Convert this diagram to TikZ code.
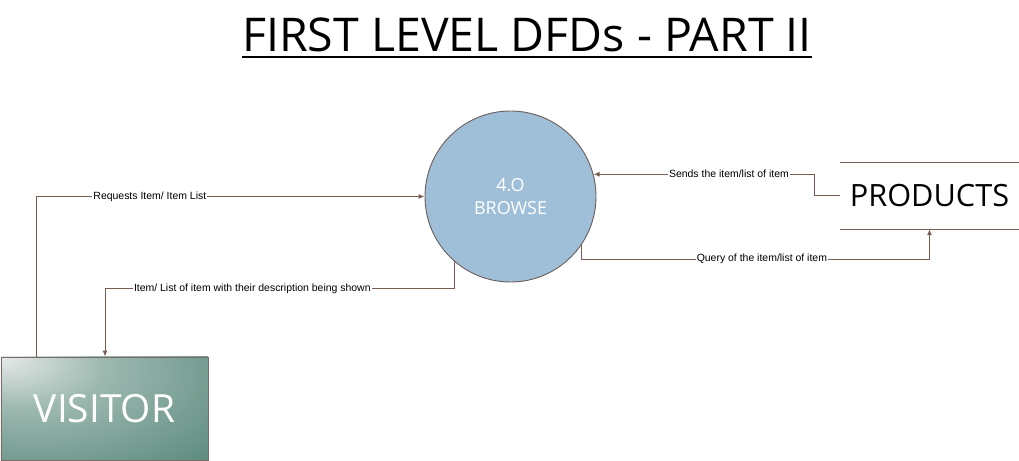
\documentclass[tikz,border=0pt]{standalone}
\usepackage{fontspec}
\setmainfont{Open Sans}
\newfontfamily\labfont{Liberation Sans}
\usetikzlibrary{arrows.meta}
\definecolor{flowc}{HTML}{7A5C55}
\definecolor{circfill}{HTML}{9FBFD8}
\definecolor{circline}{HTML}{6B5F5C}
\definecolor{vislight}{HTML}{E6EAE9}
\definecolor{vismid}{HTML}{9DB8B0}
\definecolor{visdark}{HTML}{5E8C80}
\definecolor{visline}{HTML}{7B6A66}
\pgfdeclareradialshading{visshade}{\pgfpoint{-25bp}{25bp}}{color(0bp)=(vislight); color(20bp)=(vismid); color(52bp)=(visdark); color(100bp)=(visdark)}
\begin{document}
\begin{tikzpicture}[x=1bp,y=-1bp,
  flow/.style={draw=flowc, line width=1bp, -{Latex[length=6bp,width=5bp]}},
  lab/.style={fill=white, inner sep=1bp, text=black, font=\labfont\fontsize{10.5}{12}\selectfont},
  proc/.style={circle, draw=circline, line width=0.9bp, fill=circfill, minimum size=171bp, inner sep=0pt,
    text=white, align=center, font=\fontsize{18}{23}\selectfont},
  extent/.style={rectangle, draw=visline, line width=0.9bp, shading=visshade,
    minimum width=207bp, minimum height=103bp, inner sep=0pt, text=white, font=\fontsize{39}{42}\selectfont},
  store/.style={rectangle, minimum width=179bp, minimum height=66bp, inner sep=0pt, font=\fontsize{30.8}{33}\selectfont},
  storeline/.style={draw=flowc, line width=1bp}
]
\useasboundingbox (0,0) rectangle (1019,461);
\node[inner sep=0pt, font=\fontsize{46.7}{50}\selectfont] (title) at (527,35) {FIRST LEVEL DFDs - PART II};
\draw[line width=2bp] ([yshift=-5bp]title.base west) -- ([yshift=-5bp]title.base east);

\node[proc] (browse) at (510.5,196.5) {4.O\\BROWSE};
\node[extent] (visitor) at (104.5,408.5) {VISITOR};
\node[store] (prod) at (929.5,196) {PRODUCTS};
\draw[storeline] (prod.north west) -- (prod.north east);
\draw[storeline] (prod.south west) -- (prod.south east);

\coordinate (k2) at (105,289);
\coordinate (k4) at ([yshift=-30bp]prod.south);

\draw[flow] ([xshift=36bp]visitor.north west) |- node[lab, pos=0.646] {Requests Item/ Item List} (browse.west);
\draw[flow] (browse.229.5) |- node[lab, pos=0.789] {Item/ List of item with their description being shown} (k2) -- (k2 |- visitor.north);
\draw[flow] (prod.west) -- ++(-25,0) |- node[lab, pos=0.694] {Sends the item/list of item} (browse.15.3);
\draw[flow] (browse.326.7) |- node[lab, pos=0.759] {Query of the item/list of item} (k4) -- (prod.south);
\end{tikzpicture}
\end{document}
